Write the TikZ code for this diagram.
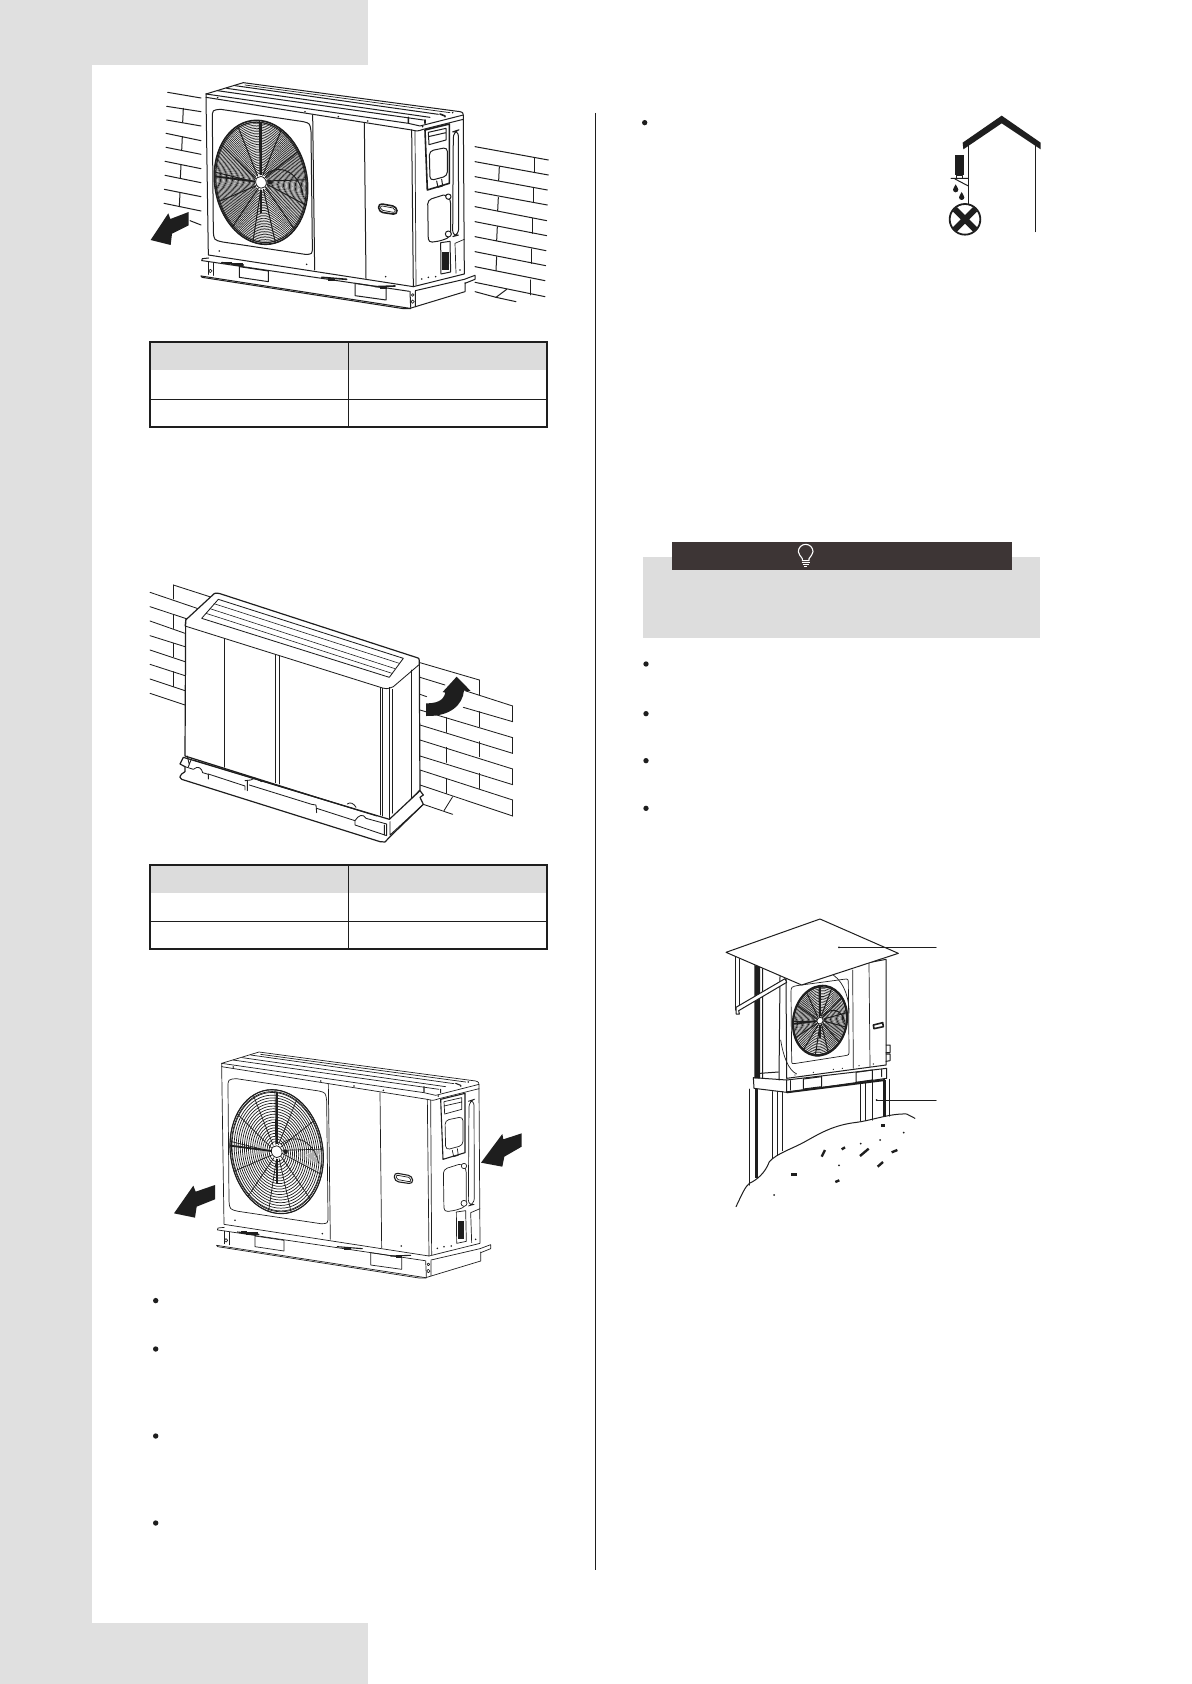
\documentclass[tikz,border=0pt]{standalone}
\definecolor{pagegray}{HTML}{E0E0E0}
\definecolor{notegray}{HTML}{DDDDDD}
\definecolor{hdrgray}{HTML}{DCDCDC}
\definecolor{barblack}{HTML}{3D3535}
\definecolor{ink}{HTML}{1E1E1E}
\tikzset{
  thinl/.style={draw=ink,line width=0.35pt,line join=round,line cap=round},
  medl/.style={draw=ink,line width=0.5pt,line join=round,line cap=round},
  boldl/.style={draw=ink,line width=0.8pt,line join=round,line cap=round},
  ring/.style={draw=ink,line width=0.3pt},
  inkfill/.style={fill=ink,draw=none},
  zoomed/.style={scale=1/3},
}
\newcommand{\unitrings}{34}
% fan: cx cy rx ry shear rings
\newcommand{\fanwheel}[6]{%
  \begin{scope}[shift={(#1,#2)},cm={1,#5,0,1,(0,0)}]
    \foreach \k in {1,...,#6}{\draw[ring] (0,0) ellipse[x radius={#3*(0.12+0.88*\k/#6)},y radius={#4*(0.12+0.88*\k/#6)}];}
    \foreach \a in {8,36,...,344}{\draw[medl] ({#3*0.12*cos(\a)},{#4*0.12*sin(\a)}) -- ({#3*cos(\a+8)},{#4*sin(\a+8)});}
    \draw[boldl] (0,0) ellipse[x radius={#3},y radius={#4}];
    \draw[medl] (0,0) ellipse[x radius={#3*0.97},y radius={#4*0.97}];
    \draw[line width=0.9pt,draw=ink] ({-#3*0.12},0) -- ({-#3},0);
    \draw[line width=0.9pt,draw=ink] (0,{-#4*0.12}) -- (0,{-#4*0.97});
    \draw[line width=0.9pt,draw=ink] (0,{#4*0.12}) -- (0,{#4*0.5});
    \draw[fill=white,draw=ink,line width=0.4pt] (0,0) ellipse[x radius={#3*0.115},y radius={#4*0.095}];
    \fill[ink] ({#3*0.19},{-#4*0.02}) circle[radius={#3*0.05}];
    \draw[medl] ({#3*0.1},{-#4*0.14}) .. controls ({#3*0.4},{-#4*0.35}) and ({#3*0.8},{-#4*0.25}) .. ({#3*0.9},{#4*0.1});
  \end{scope}}
% outdoor unit, drawn in 3x crop coordinates
\newcommand{\acunit}{%
  % top
  \draw[medl] (228,72) -- (340,38) -- (990,125) .. controls (1000,128) .. (1000,148);
  \draw[medl] (228,72) -- (228,82) -- (845,180);
  \draw[medl] (228,72) -- (835,160) -- (870,168) -- (1000,135);
  \draw[medl] (262,62) -- (880,150);
  \draw[medl] (290,55) -- (900,142);
  \draw[medl] (315,47) -- (925,133);
  \draw[thinl] (345,45) -- (960,128);
  \draw[boldl] (835,142) -- (835,158) (885,150) -- (885,160) (930,132) -- (945,138);
  % body
  \draw[medl] (228,82) -- (235,555) -- (850,650) -- (845,180);
  \draw[medl] (845,180) .. controls (862,184) .. (880,178) -- (1000,148) -- (1003,612) -- (850,650);
  \draw[thinl] (855,182) -- (858,646);
  \draw[medl] (548,135) -- (554,600) (703,160) -- (708,625);
  % fan panel
  \draw[medl] (272,118) -- (520,155) .. controls (540,160) .. (543,185) -- (547,530) .. controls (547,553) .. (525,553) -- (278,516) .. controls (252,510) .. (250,485) -- (247,145) .. controls (247,120) .. (272,118) -- cycle;
  \fanwheel{393}{337}{140}{185}{-0.13}{\unitrings}
  % handle
  \draw[boldl,rounded corners=2pt] (745,400) -- (800,410) -- (802,434) -- (747,426) -- cycle;
  \draw[thinl,rounded corners=1pt] (751,407) -- (795,415) -- (796,428) -- (752,420) -- cycle;
  % side panels
  \draw[boldl] (885,180) -- (958,162) -- (958,340) -- (892,360) -- cycle;
  \draw[medl] (895,187) -- (948,175) -- (948,210) -- (897,224) -- cycle (895,200) -- (948,188);
  \draw[medl,rounded corners=2pt] (898,243) -- (952,232) -- (952,318) -- (900,332) -- cycle;
  \draw[medl] (920,333) -- (924,352) -- (938,348) -- (935,328);
  \draw[medl,rounded corners=3pt] (970,185) -- (985,180) -- (986,495) -- (968,500) -- cycle;
  \draw[medl,rounded corners=2pt] (893,390) -- (950,372) -- (962,390) -- (962,500) -- (935,512) -- (895,518) -- cycle;
  \draw[medl,fill=white] (955,380) circle[radius=8] (955,492) circle[radius=9];
  \draw[medl] (932,518) -- (960,514) -- (962,606) -- (933,612) -- cycle;
  \fill[ink] (937,545) rectangle (956,600);
  \draw[thinl] (975,520) -- (1003,508) (975,520) -- (978,610);
  \foreach \x/\y in {263/83, 525/125, 625/140, 713/153, 268/543, 530/583, 767/620, 875/627, 895/622, 917/620, 990/600, 878/170, 945/140, 968/128}{\fill[ink] (\x,\y) circle[radius=2.6];}
  % base
  \draw[medl] (215,572) -- (217,566) -- (236,564) (217,572) -- (838,664);
  \draw[medl] (213,618) -- (820,712) -- (840,715) -- (1005,665) -- (1005,638);
  \draw[medl] (213,618) -- (216,622) -- (820,716) -- (842,716);
  \draw[medl] (236,575) -- (236,613) (250,578) -- (250,616);
  \draw[thinl] (241,603) circle[radius=5];
  \draw[medl] (328,590) -- (415,603) -- (415,635) -- (328,622) -- cycle;
  \draw[medl] (675,640) -- (768,654) -- (768,690) -- (675,677) -- cycle;
  \draw[medl] (840,664) -- (842,712) (856,664) -- (856,710);
  \draw[thinl] (848,695) circle[radius=5] (848,675) circle[radius=4];
  \draw[medl] (856,662) -- (1003,628) -- (1035,616) -- (1035,628) -- (1005,640);
  \draw[boldl] (275,578) -- (340,585) (575,622) -- (650,628) (735,650) -- (795,648);
  \foreach \x/\y in {295/579, 312/582, 328/583, 605/628, 760/652}{\fill[ink] (\x-10,\y-4) rectangle (\x+10,\y+4);}
}
\begin{document}
\begin{tikzpicture}[x=0.5pt,y=-0.5pt]
\useasboundingbox (0,0) rectangle (1191,1684);
\fill[white] (0,0) rectangle (1191,1684);
% page frame
\fill[pagegray] (0,0) rectangle (368,65);
\fill[pagegray] (0,0) rectangle (92,1684);
\fill[pagegray] (0,1623) rectangle (368,1684);
% divider
\draw[draw=ink,line width=0.4pt] (595,113) -- (595,1570);

% ---------- figure 1
\begin{scope}[shift={(130,70)},zoomed]
  \foreach \a/\b/\c/\d in {113/67/213/84, 110/109/213/125, 110/150/213/168, 108/190/213/212, 108/232/213/253, 105/274/213/296, 105/316/213/338, 103/358/213/380, 102/400/213/423, 180/452/213/465,
      160/115/158/157, 157/200/155/242, 153/285/151/325, 150/368/148/410,
      1035/230/1255/270, 1035/275/1255/315, 1035/320/1252/360, 1035/365/1252/405, 1035/410/1250/452, 1035/455/1250/497, 1035/500/1248/542, 1035/545/1247/587, 1035/590/1245/632, 1035/637/1245/680,
      1212/265/1212/308, 1108/290/1106/332, 1210/355/1210/398, 1105/382/1103/422, 1207/445/1207/490, 1102/470/1100/512, 1203/537/1203/580, 1100/560/1098/602, 1200/630/1200/675,
      1130/658/1098/682, 1035/665/1098/682, 1098/682/1158/695}{\draw[medl] (\a,\b) -- (\c,\d);}
  \acunit
  \fill[ink] (62,510) -- (115,430) -- (121,447) -- (176,426) -- (176,466) -- (126,491) -- (122,525) -- cycle;
\end{scope}

% ---------- table 1
\fill[hdrgray] (150,342) rectangle (547,370);
\draw[draw=ink,line width=0.45pt] (150,399) -- (547,399) (348,342) -- (348,427);
\draw[draw=ink,line width=1pt] (150,342) rectangle (547,427);

% ---------- figure 2
\begin{scope}[shift={(130,570)},zoomed]
  \tikzset{boldl/.style={draw=ink,line width=0.6pt,line join=round,line cap=round},medl/.style={draw=ink,line width=0.42pt,line join=round,line cap=round},thinl/.style={draw=ink,line width=0.3pt,line join=round,line cap=round}}
  \foreach \a/\b/\c/\d in {130/45/245/82, 60/67/210/118, 60/110/190/153, 60/153/165/190, 60/197/165/230, 60/240/165/275, 60/283/165/317, 60/327/165/362, 60/370/165/405,
      130/45/130/87, 130/135/130/175, 130/220/130/260, 130/305/130/350,
      870/278/1048/330, 870/322/945/345, 1005/362/1148/408, 870/373/890/380, 1000/412/1148/455, 870/420/1148/503, 870/465/1148/550, 870/510/1148/597, 870/558/1148/644, 870/600/1148/690, 870/645/1148/738,
      1048/330/1048/375, 1148/408/1148/455, 1148/503/1148/550, 1148/597/1148/644, 1148/690/1148/738,
      1048/425/1048/470, 948/443/948/487, 1048/515/1048/560, 948/532/948/577, 1048/610/1048/655, 948/627/948/670,
      880/703/968/733, 968/680/942/722}{\draw[medl] (\a,\b) -- (\c,\d);}
  % body
  \draw[boldl,fill=white] (167,150) -- (245,78) .. controls (255,68) .. (270,71) -- (858,262) .. controls (868,265) .. (868,280) -- (870,660) -- (782,752) -- (750,742) -- (165,558) -- cycle;
  \draw[medl] (167,150) -- (165,168) -- (745,350) .. controls (770,358) .. (790,350) -- (866,285);
  \draw[medl] (265,88) -- (820,265) -- (778,322) -- (215,145) -- cycle;
  \draw[thinl] (252,101) -- (808,280) (240,116) -- (795,296) (228,130) -- (786,310);
  \draw[thinl] (283,205) -- (283,592) (437,255) -- (437,638) (447,258) -- (447,642) (750,352) -- (750,735) (778,352) -- (778,750) (788,358) -- (788,730) (845,300) -- (845,690);
  \draw[thinl] (756,355) -- (756,738);
  % base
  \draw[boldl,fill=white] (150,582) -- (160,562) -- (778,748) -- (870,662) -- (880,675) -- (870,682) -- (880,703) -- (780,800) -- (765,816) -- (750,815) -- (155,628) .. controls (148,622) .. (155,612) -- (165,605) -- (165,590) -- cycle;
  \draw[medl] (172,558) -- (178,585) (185,565) -- (175,590) (190,570) -- (740,738);
  \draw[medl] (165,590) -- (190,598) .. controls (205,585) and (215,595) .. (218,608) -- (235,613) -- (235,627);
  \draw[medl] (235,612) -- (345,648) -- (345,660) (352,632) -- (352,662) (345,632) -- (362,630) -- (375,624) -- (395,635);
  \draw[medl] (358,645) -- (545,703) -- (558,705) -- (560,728) (560,715) -- (675,752);
  \draw[medl] (675,752) -- (675,765) -- (770,797) (675,752) .. controls (685,735) and (700,730) .. (708,745) -- (770,762) -- (770,795);
  \draw[medl] (763,765) -- (763,795) (780,755) -- (780,795) -- (880,703);
  \draw[medl] (652,702) .. controls (660,695) and (672,700) .. (678,712);
  % curved arrow
  \fill[ink] (888,400) .. controls (915,400) and (940,395) .. (946,368) -- (938,366) -- (980,320) -- (1022,363) -- (1002,362) .. controls (998,405) and (960,440) .. (888,438) -- cycle;
\end{scope}

% ---------- table 2
\fill[hdrgray] (150,865) rectangle (547,893);
\draw[draw=ink,line width=0.45pt] (150,921) -- (547,921) (348,865) -- (348,949);
\draw[draw=ink,line width=1pt] (150,865) rectangle (547,949);

% ---------- figure 3
\begin{scope}[shift={(145.67,1039.33)},zoomed]
  \tikzset{boldl/.style={draw=ink,line width=0.55pt,line join=round,line cap=round},medl/.style={draw=ink,line width=0.35pt,line join=round,line cap=round},ring/.style={draw=ink,line width=0.35pt}}
  \renewcommand{\unitrings}{20}
  \acunit
\end{scope}
\begin{scope}[shift={(160,1040)},zoomed]
  \fill[ink] (42,520) -- (100,437) -- (107,455) -- (165,435) -- (165,478) -- (110,500) -- (105,533) -- cycle;
  \fill[ink] (963,368) -- (1027,282) -- (1030,298) -- (1085,280) -- (1085,320) -- (1033,350) -- (1027,380) -- cycle;
\end{scope}

% ---------- left bullets
\foreach \y in {1300.6,1349,1436,1523}{\fill[ink] (155.7,\y) circle[radius=2.7];}

% ---------- house pictogram
\begin{scope}[shift={(630,100)},zoomed]
  \fill[ink] (44,68) circle[radius=8];
  \fill[ink] (998,128) -- (1115,47) -- (1232,128) -- (1232,148) -- (1115,70) -- (1000,148) -- cycle;
  \draw[medl] (1015,135) -- (1015,312) (1216,135) -- (1216,395);
  \fill[ink] (974,165) rectangle (1003,226);
  \draw[medl] (978,226) rectangle (998,235);
  \draw[medl] (963,235) -- (1015,235) (975,237) -- (1015,258);
  \foreach \x/\y in {977/266, 995/289}{\fill[ink] (\x,\y-13) .. controls (\x+3,\y-5) and (\x+8,\y-2) .. (\x+8,\y+3) arc[start angle=0,end angle=180,radius=8] .. controls (\x-8,\y-2) and (\x-3,\y-5) .. (\x,\y-13) -- cycle;}
  \draw[draw=ink,line width=0.9pt,fill=white] (1005,358) circle[radius=46];
  \begin{scope}
    \clip (1005,358) circle[radius=44];
    \draw[draw=ink,line width=3pt] (970,323) -- (1040,393) (970,393) -- (1040,323);
  \end{scope}
\end{scope}

% ---------- note box
\begin{scope}[shift={(630,530)},zoomed]
  \fill[notegray] (40,80) rectangle (1230,325);
  \fill[barblack] (126,36) rectangle (1146,120);
  \draw[draw=white,line width=0.55pt,line join=round] (517,92) -- (517,86) .. controls (512,78) and (505,72) .. (505,65) arc[start angle=180,end angle=360,radius=22] .. controls (549,72) and (542,78) .. (537,86) -- (537,92) -- cycle;
  \draw[draw=white,line width=0.55pt] (515,98) -- (539,98) (518,104) -- (536,104) (522,109) -- (532,109);
  \foreach \y in {402,551,692,835}{\fill[ink] (48,\y) circle[radius=8];}
\end{scope}

% ---------- figure 4
\begin{scope}[shift={(710,900)},zoomed]
  % left wall + support
  \draw[medl] (75,170) -- (75,330) (88,172) -- (88,325);
  \fill[ink] (133,195) -- (150,200) -- (150,535) -- (133,535) -- cycle;
  \draw[medl] (158,205) -- (158,535) (210,228) -- (207,540);
  \draw[medl] (130,533) -- (230,540);
  % body
  \draw[medl,fill=white] (228,235) -- (528,178) -- (528,495) -- (230,535) -- cycle;
  \draw[thinl] (428,210) -- (430,505) (477,190) -- (480,500);
  \draw[thinl] (370,225) .. controls (405,250) and (418,300) .. (417,340);
  \draw[thinl] (212,420) .. controls (220,470) and (235,510) .. (260,522);
  \draw[thinl] (267,256) -- (400,238) .. controls (415,236) .. (415,252) -- (417,452) .. controls (417,465) .. (405,467) -- (258,490) .. controls (245,492) .. (245,478) -- (243,280) .. controls (243,260) .. (267,256) -- cycle;
  \fanwheel{330}{362}{82}{105}{0.12}{20}
  \draw[boldl] (490,375) -- (518,368) -- (520,380) -- (492,386) -- cycle;
  \draw[medl] (528,435) -- (540,435) -- (540,458) -- (528,458) (528,462) -- (540,462) -- (540,482) -- (528,484);
  \foreach \x/\y in {255/525, 310/517, 370/508, 397/505, 447/497, 490/492}{\fill[ink] (\x,\y) circle[radius=2];}
  % brace
  \draw[medl,fill=white] (78,322) -- (225,236) -- (230,247) -- (86,332) -- (88,342) -- (78,342) -- cycle;
  % base
  \draw[medl] (130,533) -- (132,565) -- (230,577);
  \draw[medl] (230,540) -- (530,505) -- (530,535) -- (230,577) -- cycle;
  \draw[draw=ink,line width=1pt] (230,577) -- (525,540);
  \draw[medl] (230,545) -- (230,575) (240,542) -- (240,570);
  \draw[medl] (280,537) -- (335,530) -- (335,560) -- (280,567) -- cycle;
  \draw[medl] (438,517) -- (487,510) -- (487,540) -- (438,547) -- cycle;
  \draw[medl] (515,508) -- (515,530) (150,520) -- (205,516);
  % roof
  \draw[medl,fill=white] (48,157) -- (330,57) -- (565,160) -- (275,255) -- cycle;
  % legs
  \draw[medl] (118,567) -- (118,855) (187,575) -- (187,775) (203,575) -- (203,765) (217,575) -- (217,752) (450,550) -- (450,662) (465,548) -- (465,662) (487,545) -- (487,660) (538,538) -- (538,648);
  \fill[ink] (135,567) rectangle (143,835);
  \fill[ink] (518,540) rectangle (528,650);
  % ground
  \draw[medl] (78,920) .. controls (95,885) and (105,860) .. (118,850) .. controls (140,840) and (165,820) .. (178,785) .. controls (200,760) and (250,745) .. (285,725) .. controls (330,700) and (370,675) .. (440,667) .. controls (490,660) and (540,640) .. (590,642) -- (615,655);
  \foreach \a/\b/\c/\d in {513/676/525/676, 335/770/345/750, 395/748/405/742, 450/768/476/746, 545/757/562/750, 503/800/519/786, 244/823/261/823, 376/846/388/841}{\draw[draw=ink,line width=1.2pt] (\a,\b) -- (\c,\d);}
  \foreach \x/\y in {581/698, 192/885, 387/796, 452/731, 510/720}{\fill[ink] (\x,\y) circle[radius=3];}
  % leaders
  \coordinate (roofdot) at (387,142);
  \coordinate (roofend) at (678,142);
  \coordinate (legdot) at (500,600);
  \coordinate (legend) at (678,600);
  \draw[medl] (roofdot) -- (roofend) (legdot) -- (legend);
  \fill[ink] (roofdot) circle[radius=3] (legdot) circle[radius=3];
\end{scope}
\end{tikzpicture}
\end{document}
